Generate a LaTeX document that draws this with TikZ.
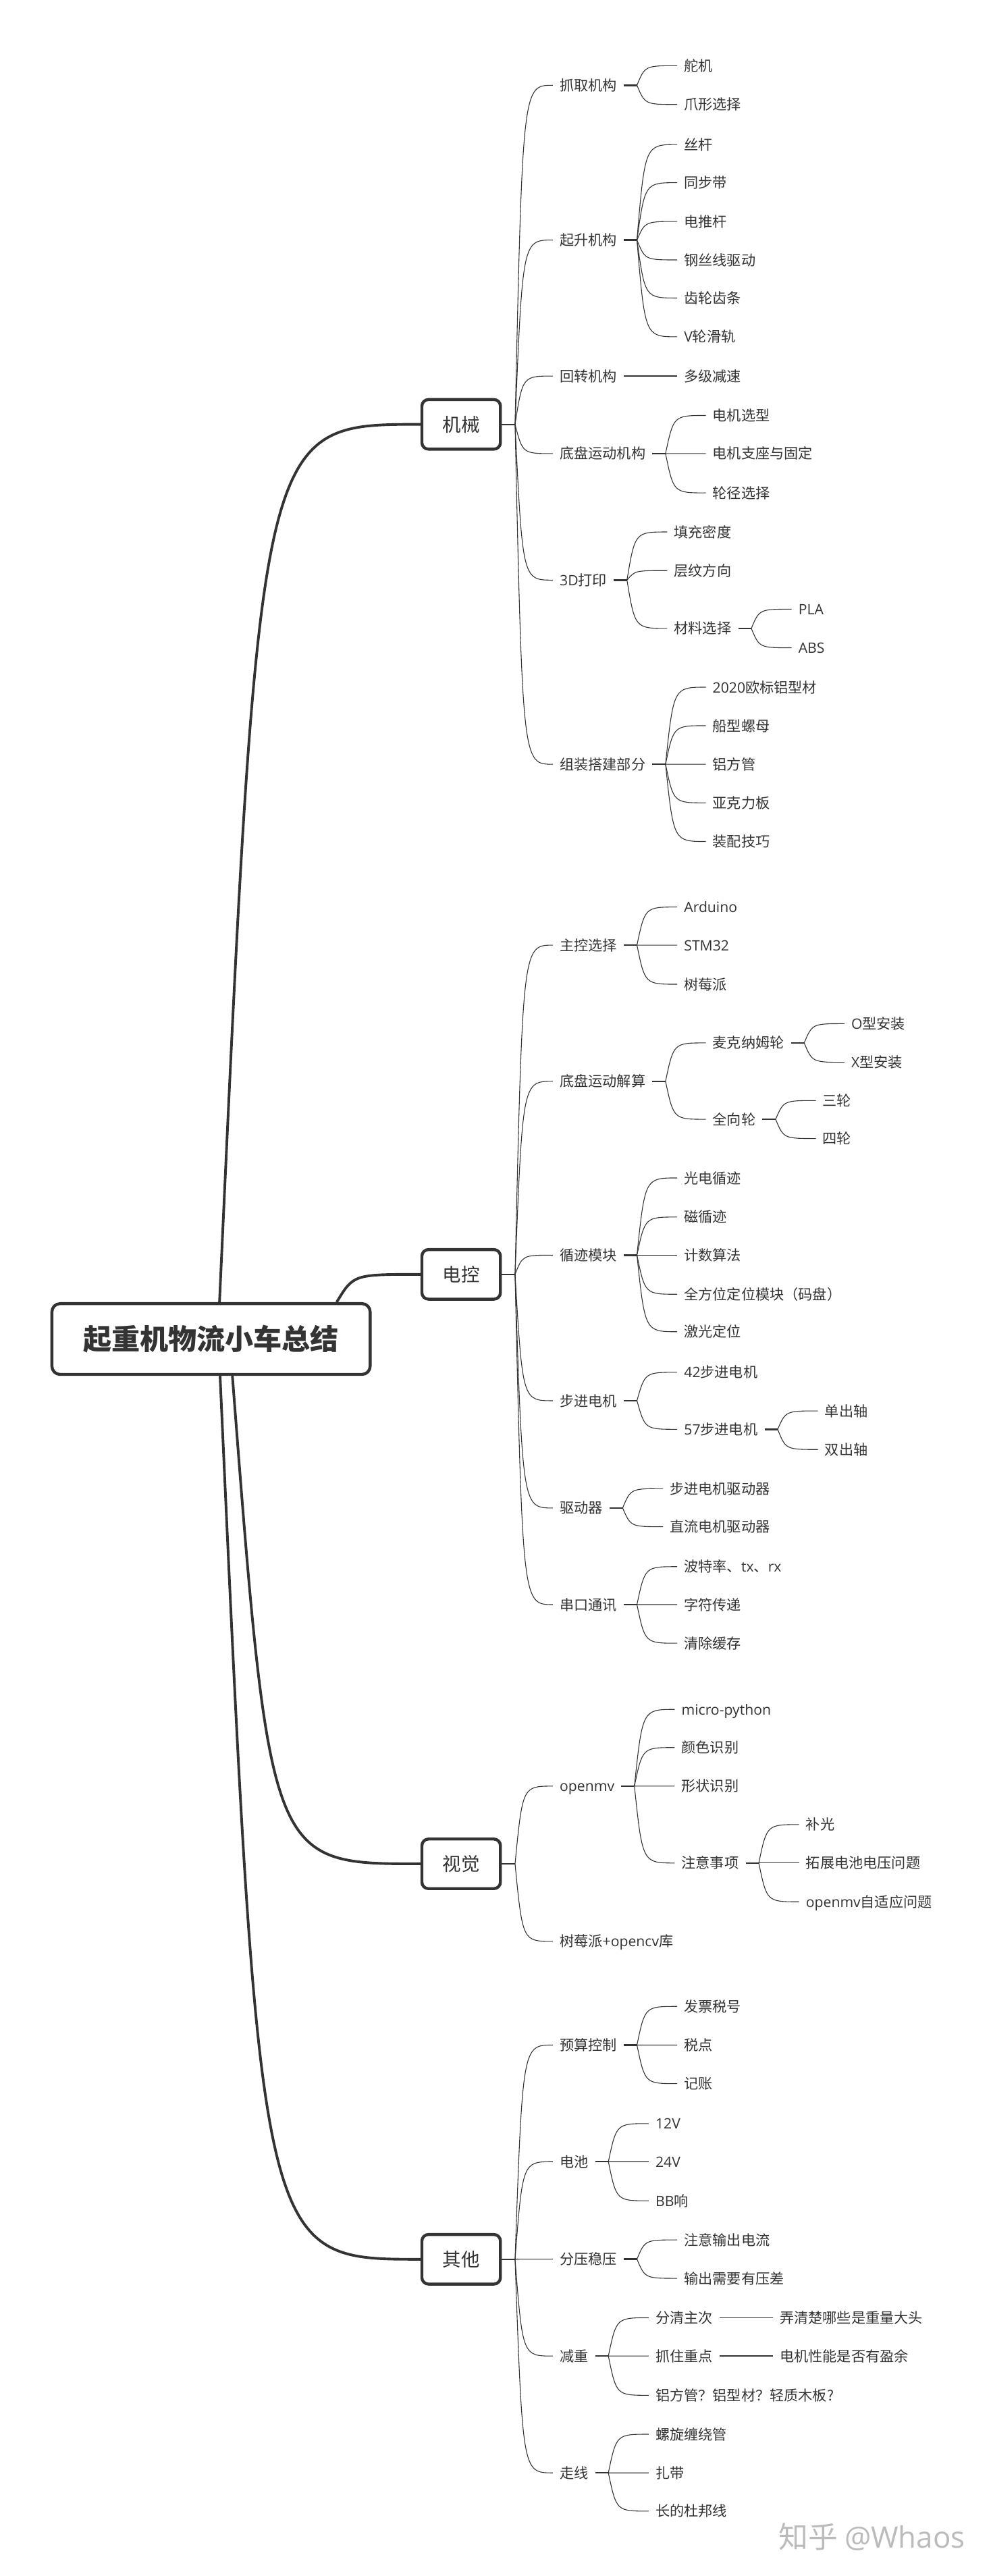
\documentclass[tikz,border=0pt]{standalone}
\usepackage{fontspec}
\setmainfont{Noto Sans CJK SC}
\newfontfamily\lat{Open Sans}
\usetikzlibrary{calc}
\definecolor{ink}{HTML}{333333}
\definecolor{wmc}{HTML}{BBBBBB}
\newcommand\fa{\fontsize{8.7pt}{10pt}\selectfont}
\newcommand\fb{\fontsize{11.3pt}{13pt}\selectfont}
\newcommand\fr{\fontsize{17.3pt}{20pt}\selectfont\bfseries}
\newcommand\stub[2][stubl]{\draw[#1] (#2.east) -- ++(8,0) coordinate (#2b);}
\newcommand\kid[5][32.5]{%
  \path let \p1=(#2.east) in node[lf] (#3) at (\x1+#1pt,-#4pt) {#5};
  \draw[thinl] (#2b) .. controls ($(#2b |- #3.west)!0.2!(#3.west)$) .. (#3.west);}
\newcommand\solo[4]{%
  \path let \p1=(#1.east) in node[lf] (#2) at (\x1+32.5pt,-#3pt) {#4};
  \draw[sololine] (#1.east) -- (#2.west);}
\begin{document}
\begin{tikzpicture}[x=1pt,y=-1pt,
  lf/.style={font=\fa, text=ink, inner xsep=4pt, inner ysep=0pt, text height=7.66pt, text depth=1.04pt, anchor=west},
  lbox/.style={draw=ink, line width=1.8pt, rounded corners=4pt, fill=white, minimum width=47.8pt, minimum height=30.2pt, inner sep=0pt, font=\fb, text=ink, text height=9.94pt, text depth=1.36pt},
  rbox/.style={draw=ink, line width=1.8pt, rounded corners=5pt, fill=white, minimum width=193.7pt, minimum height=43.1pt, inner sep=0pt, font=\fr, text=ink, text height=15.2pt, text depth=2.08pt},
  thinl/.style={draw=ink, line width=0.45pt},
  stubl/.style={draw=ink, line width=1.0pt},
  lstub/.style={draw=ink, line width=0.75pt},
  sololine/.style={draw=ink, line width=0.75pt},
  thickl/.style={draw=ink, line width=1.6pt}]
\fill[white] (0,0) rectangle (603,1568);
\useasboundingbox (0,0) rectangle (603,1568);
% root and level 1
\node[rbox] (root) at (128.45,815.05) {起重机物流小车总结};
\node[lbox] (jx) at (280.7,258.3) {机械};
\node[lbox] (dk) at (280.7,775.7) {电控};
\node[lbox] (sj) at (280.7,1134.5) {视觉};
\node[lbox] (qt) at (280.7,1375.2) {其他};
\coordinate (r1) at ([xshift=5.15pt]root.north);
\coordinate (r2) at ([xshift=76.5pt]root.north);
\coordinate (r3) at ([xshift=13pt]root.south);
\coordinate (r4) at ([xshift=5.5pt]root.south);
\draw[thickl] (r1) .. controls ($(r1 |- jx.west)!0.2!(jx.west)$) .. (jx.west);
\draw[thickl] (r2) .. controls ($(r2 |- dk.west)!0.2!(dk.west)$) .. (dk.west);
\draw[thickl] (r3) .. controls ($(r3 |- sj.west)!0.2!(sj.west)$) .. (sj.west);
\draw[thickl] (r4) .. controls ($(r4 |- qt.west)!0.2!(qt.west)$) .. (qt.west);
% 机械
\stub[lstub]{jx}
\kid[31]{jx}{a1}{51.9}{抓取机构}
\kid[31]{jx}{a2}{146.1}{起升机构}
\kid[31]{jx}{a3}{228.9}{回转机构}
\kid[31]{jx}{a4}{276.1}{底盘运动机构}
\kid[31]{jx}{a5}{353.1}{{\lat 3D}打印}
\kid[31]{jx}{a6}{465.2}{组装搭建部分}
\stub{a1}
\kid{a1}{a11}{40.0}{舵机}
\kid{a1}{a12}{63.6}{爪形选择}
\stub{a2}
\kid{a2}{a21}{88}{丝杆}
\kid{a2}{a22}{111.2}{同步带}
\kid{a2}{a23}{134.8}{电推杆}
\kid{a2}{a24}{158.2}{钢丝线驱动}
\kid{a2}{a25}{181.4}{齿轮齿条}
\kid{a2}{a26}{205}{{\lat V}轮滑轨}
\solo{a3}{a31}{228.9}{多级减速}
\stub{a4}
\kid{a4}{a41}{252.9}{电机选型}
\kid{a4}{a42}{276.1}{电机支座与固定}
\kid{a4}{a43}{300}{轮径选择}
\stub{a5}
\kid{a5}{a51}{323.8}{填充密度}
\kid{a5}{a52}{347.3}{层纹方向}
\kid{a5}{a53}{382.5}{材料选择}
\stub{a53}
\kid{a53}{a531}{370.8}{{\lat PLA}}
\kid{a53}{a532}{394.3}{{\lat ABS}}
\stub{a6}
\kid{a6}{a61}{418.3}{{\lat 2020}欧标铝型材}
\kid{a6}{a62}{441.7}{船型螺母}
\kid{a6}{a63}{465.2}{铝方管}
\kid{a6}{a64}{488.7}{亚克力板}
\kid{a6}{a65}{512.2}{装配技巧}
% 电控
\stub[lstub]{dk}
\kid[31]{dk}{b1}{575.3}{主控选择}
\kid[31]{dk}{b2}{658.2}{底盘运动解算}
\kid[31]{dk}{b3}{764}{循迹模块}
\kid[31]{dk}{b4}{852.6}{步进电机}
\kid[31]{dk}{b5}{917.9}{驱动器}
\kid[31]{dk}{b6}{976.7}{串口通讯}
\stub{b1}
\kid{b1}{b11}{552.1}{{\lat Arduino}}
\kid{b1}{b12}{575.3}{{\lat STM32}}
\kid{b1}{b13}{599.1}{树莓派}
\stub{b2}
\kid{b2}{b21}{634.8}{麦克纳姆轮}
\kid{b2}{b22}{681.3}{全向轮}
\stub{b21}
\kid{b21}{b211}{623.1}{{\lat O}型安装}
\kid{b21}{b212}{646.6}{{\lat X}型安装}
\stub{b22}
\kid{b22}{b221}{669.9}{三轮}
\kid{b22}{b222}{693}{四轮}
\stub{b3}
\kid{b3}{b31}{717}{光电循迹}
\kid{b3}{b32}{740.8}{磁循迹}
\kid{b3}{b33}{764}{计数算法}
\kid{b3}{b34}{787.8}{全方位定位模块（码盘）}
\kid{b3}{b35}{810.6}{激光定位}
\stub{b4}
\kid{b4}{b41}{835.3}{{\lat 42}步进电机}
\kid{b4}{b42}{870}{{\lat 57}步进电机}
\stub{b42}
\kid{b42}{b421}{858.8}{单出轴}
\kid{b42}{b422}{882.3}{双出轴}
\stub{b5}
\kid{b5}{b51}{906.1}{步进电机驱动器}
\kid{b5}{b52}{929.3}{直流电机驱动器}
\stub{b6}
\kid{b6}{b61}{953.6}{波特率、{\lat tx}、{\lat rx}}
\kid{b6}{b62}{976.7}{字符传递}
\kid{b6}{b63}{1000.2}{清除缓存}
% 视觉
\stub[lstub]{sj}
\kid[31]{sj}{c1}{1087.2}{{\lat openmv}}
\kid[31]{sj}{c2}{1181.7}{树莓派{\lat +opencv}库}
\stub{c1}
\kid{c1}{c11}{1040.5}{{\lat micro-python}}
\kid{c1}{c12}{1063.7}{颜色识别}
\kid{c1}{c13}{1087.2}{形状识别}
\kid{c1}{c14}{1134}{注意事项}
\stub{c14}
\kid{c14}{c141}{1110.6}{补光}
\kid{c14}{c142}{1134}{拓展电池电压问题}
\kid{c14}{c143}{1157.6}{{\lat openmv}自适应问题}
% 其他
\stub[lstub]{qt}
\kid[31]{qt}{d1}{1244.8}{预算控制}
\kid[31]{qt}{d2}{1315.8}{电池}
\kid[31]{qt}{d3}{1375.1}{分压稳压}
\kid[31]{qt}{d4}{1434.1}{减重}
\kid[31]{qt}{d5}{1505.2}{走线}
\stub{d1}
\kid{d1}{d11}{1221.3}{发票税号}
\kid{d1}{d12}{1244.8}{税点}
\kid{d1}{d13}{1268.3}{记账}
\stub{d2}
\kid{d2}{d21}{1292.6}{{\lat 12V}}
\kid{d2}{d22}{1315.8}{{\lat 24V}}
\kid{d2}{d23}{1339.6}{{\lat BB}响}
\stub{d3}
\kid{d3}{d31}{1363.4}{注意输出电流}
\kid{d3}{d32}{1386.8}{输出需要有压差}
\stub{d4}
\kid{d4}{d41}{1410.8}{分清主次}
\kid{d4}{d42}{1434.1}{抓住重点}
\kid{d4}{d43}{1458}{铝方管？铝型材？轻质木板?}
\solo{d41}{d411}{1410.8}{弄清楚哪些是重量大头}
\solo{d42}{d421}{1434.1}{电机性能是否有盈余}
\stub{d5}
\kid{d5}{d51}{1481.7}{螺旋缠绕管}
\kid{d5}{d52}{1505.2}{扎带}
\kid{d5}{d53}{1528.5}{长的杜邦线}
% watermark
\node[font=\fontsize{18pt}{20pt}\selectfont, text=wmc, anchor=west, inner sep=0pt] (wm) at (473.8,1544) {知乎 {\lat @Whaos}};
\end{tikzpicture}
\end{document}
